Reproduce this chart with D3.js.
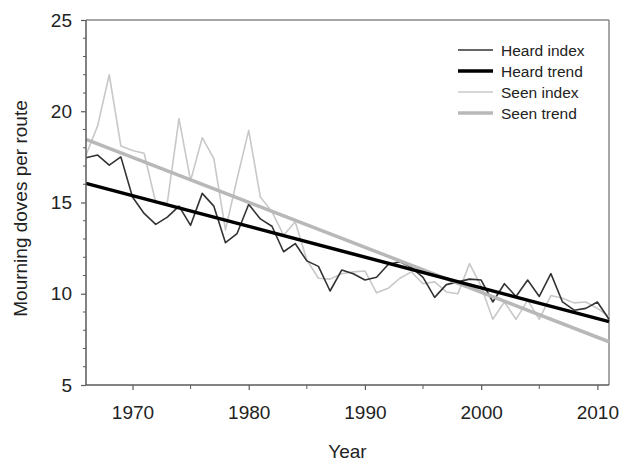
<!DOCTYPE html>
<html>
<head>
<meta charset="utf-8">
<script src="https://cdn.jsdelivr.net/npm/d3@7"></script>
<style>
  html, body { margin: 0; padding: 0; background: #fff; }
  svg { display: block; }
  text { font-family: "Liberation Sans", Arial, sans-serif; fill: #222; }
</style>
</head>
<body>
<svg id="chart" width="619" height="462"></svg>
<script>
const years = d3.range(1966, 2012);
const heardIndex = [17.45, 17.6, 17.05, 17.5, 15.3, 14.4, 13.8, 14.2, 14.8, 13.75,
  15.5, 14.8, 12.8, 13.3, 14.9, 14.1, 13.7, 12.3, 12.75, 11.8,
  11.5, 10.15, 11.3, 11.1, 10.75, 10.9, 11.6, 11.75, 11.45, 10.9,
  9.8, 10.5, 10.65, 10.8, 10.75, 9.55, 10.55, 9.85, 10.75, 9.85,
  11.1, 9.55, 9.1, 9.2, 9.55, 8.6];
const seenIndex = [17.6, 19.2, 22.0, 18.1, 17.85, 17.7, 15.0, 15.0, 19.6, 16.2,
  18.55, 17.4, 13.5, 16.3, 18.95, 15.3, 14.5, 13.2, 13.95, 11.85,
  10.85, 10.8, 11.1, 11.2, 11.25, 10.05, 10.3, 10.85, 11.2, 10.55,
  10.65, 10.1, 10.0, 11.65, 10.4, 8.6, 9.55, 8.6, 9.65, 8.6,
  9.9, 9.75, 9.5, 9.55, 9.2, 8.75];
const trendYears = [1966, 2011];
const heardTrend = [16.05, 8.47];
const seenTrend = [18.46, 7.37];
const yMajorTicks = [5, 10, 15, 20, 25];
const xMajorTicks = [1970, 1980, 1990, 2000, 2010];
const xMinorTicks = [1975, 1985, 1995, 2005];
const legendItems = ["Heard index", "Heard trend", "Seen index", "Seen trend"];

const W = 619, H = 462;
const m = {left: 86, right: 10, top: 20, bottom: 77};
const svg = d3.select("#chart");

const x = d3.scaleLinear().domain([1966, 2011]).range([m.left, W - m.right]);
const y = d3.scaleLinear().domain([5, 25]).range([H - m.bottom, m.top]);

const axisColor = "#5a5a5a";

// box top/right
svg.append("line").attr("x1", x(1966)).attr("x2", x(2011)).attr("y1", y(25)).attr("y2", y(25))
  .attr("stroke", "#8a8a8a").attr("stroke-width", 1.5);
svg.append("line").attr("x1", x(2011)).attr("x2", x(2011)).attr("y1", y(25)).attr("y2", y(5))
  .attr("stroke", "#8a8a8a").attr("stroke-width", 1.5);

const series = [
  {vals: heardIndex, xs: years, color: "#333333", w: 1.6},
  {vals: seenIndex, xs: years, color: "#c8c8c8", w: 1.6},
  {vals: seenTrend, xs: trendYears, color: "#b8b8b8", w: 3.5},
  {vals: heardTrend, xs: trendYears, color: "#000000", w: 3.5}
];
const line = d3.line().x(d => x(d[0])).y(d => y(d[1]));
// draw order: seen index, heard index, seen trend, heard trend
[series[1], series[0], series[2], series[3]].forEach(s => {
  svg.append("path").datum(s.xs.map((t, i) => [t, s.vals[i]]))
    .attr("d", line).attr("fill", "none")
    .attr("stroke", s.color).attr("stroke-width", s.w)
    .attr("stroke-linejoin", "round");
});

// y axis
const yAxis = svg.append("g").attr("transform", `translate(${m.left},0)`)
  .call(d3.axisLeft(y).tickValues(yMajorTicks).tickSize(5).tickPadding(9).tickFormat(d3.format("d")));
yAxis.append("g").selectAll("line").data(d3.range(5, 26).filter(v => v % 5 !== 0)).join("line")
  .attr("x1", -3).attr("x2", 0).attr("y1", d => y(d)).attr("y2", d => y(d))
  .attr("stroke", axisColor).attr("stroke-width", 1);

// x axis
const xAxis = svg.append("g").attr("transform", `translate(0,${H - m.bottom})`)
  .call(d3.axisBottom(x).tickValues(xMajorTicks).tickSize(5).tickPadding(16).tickFormat(d3.format("d")));
xAxis.append("g").selectAll("line").data(xMinorTicks).join("line")
  .attr("x1", d => x(d)).attr("x2", d => x(d)).attr("y1", 0).attr("y2", 4)
  .attr("stroke", axisColor).attr("stroke-width", 1);

[yAxis, xAxis].forEach(g => {
  g.select(".domain").attr("stroke", axisColor).attr("stroke-width", 1.5);
  g.selectAll(".tick line").attr("stroke", axisColor).attr("stroke-width", 1.2);
  g.selectAll(".tick text").attr("font-size", 19).attr("fill", "#222")
    .attr("font-family", '"Liberation Sans", Arial, sans-serif');
});
yAxis.select(".domain").attr("d", `M0,${y(5)}V${y(25)}`);
xAxis.select(".domain").attr("d", `M${x(1966)},0H${x(2011)}`);

// axis titles
svg.append("text").attr("x", (x(1966) + x(2011)) / 2).attr("y", 458)
  .attr("text-anchor", "middle").attr("font-size", 19).text("Year");
svg.append("text").attr("transform", `translate(27,${(y(5) + y(25)) / 2 + 6}) rotate(-90)`)
  .attr("text-anchor", "middle").attr("font-size", 19).text("Mourning doves per route");

// legend
const legStyles = [
  {color: "#333333", w: 1.5},
  {color: "#000000", w: 3.5},
  {color: "#c8c8c8", w: 1.6},
  {color: "#b8b8b8", w: 3.5}
];
const leg = svg.append("g");
legendItems.forEach((name, i) => {
  const yy = 50 + i * 21;
  leg.append("line").attr("x1", 458).attr("x2", 493).attr("y1", yy).attr("y2", yy)
    .attr("stroke", legStyles[i].color).attr("stroke-width", legStyles[i].w);
  leg.append("text").attr("x", 501).attr("y", yy + 5.5).attr("font-size", 15.5).text(name);
});
</script>
</body>
</html>
